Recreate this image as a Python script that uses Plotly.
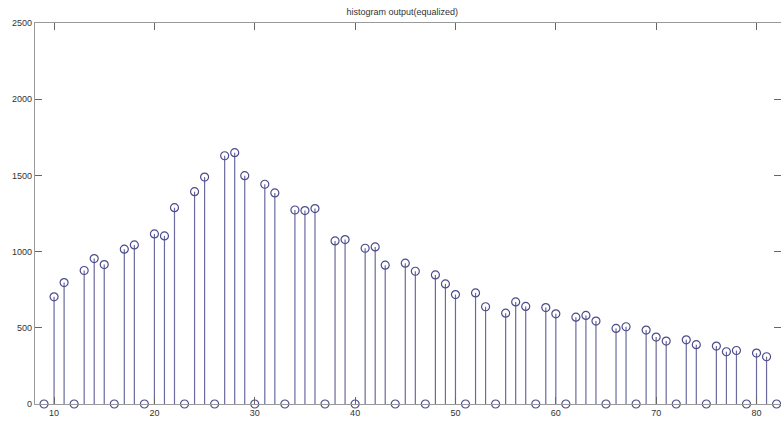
import plotly.graph_objects as go

x_vals = list(range(9, 83))
counts = [0, 703, 797, 0, 876, 954, 915, 0, 1016, 1044, 0, 1116, 1103, 1288, 0,
          1393, 1489, 0, 1629, 1649, 1498, 0, 1442, 1385, 0, 1273, 1269, 1282, 0,
          1070, 1079, 0, 1022, 1031, 911, 0, 924, 871, 0, 847, 788, 718, 0, 729, 638,
          0, 596, 670, 640, 0, 633, 592, 0, 570, 581, 544, 0, 496, 507, 0, 485, 439,
          413, 0, 421, 389, 0, 380, 343, 351, 0, 334, 310, 0]
x_ticks = [10, 20, 30, 40, 50, 60, 70, 80]
y_ticks = [0, 500, 1000, 1500, 2000, 2500]
title_text = "histogram output(equalized)"

stem_x, stem_y = [], []
for xv, yv in zip(x_vals, counts):
    stem_x += [xv, xv, None]
    stem_y += [0, yv, None]

fig = go.Figure()
fig.add_trace(go.Scatter(x=stem_x, y=stem_y, mode="lines",
                         line=dict(color="#6a6a9e", width=1.2),
                         hoverinfo="skip", showlegend=False))
fig.add_trace(go.Scatter(x=x_vals, y=counts, mode="markers",
                         marker=dict(symbol="circle-open", size=8, color="#4c4c8c",
                                     line=dict(color="#4c4c8c", width=1.2)),
                         showlegend=False, cliponaxis=False))

axis_font = dict(family="Liberation Sans, Arial, sans-serif", size=9, color="#333333")
fig.update_layout(
    width=781, height=422,
    margin=dict(l=35, r=0, t=23, b=18),
    paper_bgcolor="white", plot_bgcolor="white",
    title=dict(text=title_text, x=0.515, xanchor="center", y=0.972, yanchor="middle",
               font=dict(family="Liberation Sans, Arial, sans-serif", size=9, color="#333333")),
    xaxis=dict(range=[8.1, 82.44], tickvals=x_ticks, ticks="inside", ticklen=7,
               tickcolor="#666666", showline=True, linecolor="#9a9a9a", linewidth=1.3,
               mirror="ticks", showgrid=False, zeroline=False, tickfont=axis_font),
    yaxis=dict(range=[0, 2500], tickvals=y_ticks, ticks="inside", ticklen=7,
               tickcolor="#666666", showline=True, linecolor="#9a9a9a", linewidth=1.3,
               mirror="ticks", showgrid=False, zeroline=False, tickfont=axis_font),
)
fig.write_html("out.html", config={"displayModeBar": False},
               post_script="document.body.style.margin='0px';")
